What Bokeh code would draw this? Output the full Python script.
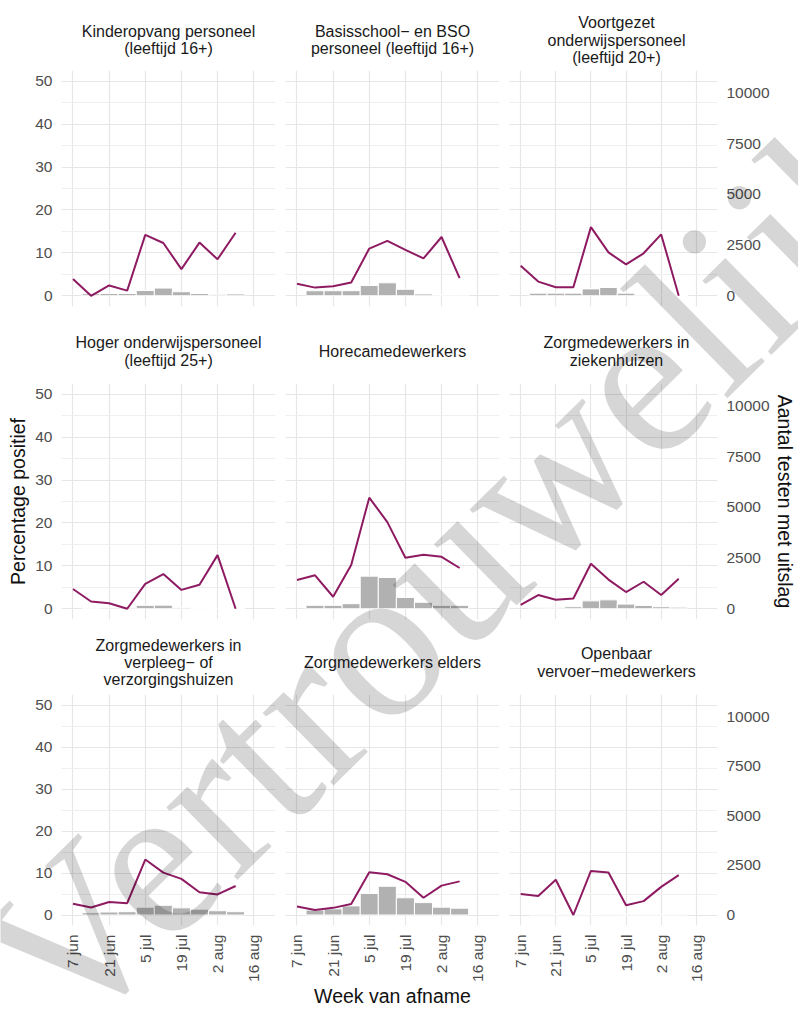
import math
from datetime import datetime, timedelta

from bokeh.plotting import figure
from bokeh.models import Range1d, LinearAxis, FixedTicker, CustomJSTickFormatter, GridPlot
from bokeh.core.properties import value
from bokeh.embed import file_html
from bokeh.resources import INLINE

# ------------------------------------------------------------------ data
week_dates = ["2020-06-07", "2020-06-14", "2020-06-21", "2020-06-28", "2020-07-05",
              "2020-07-12", "2020-07-19", "2020-07-26", "2020-08-02", "2020-08-09"]
bar_dates = ["2020-06-14", "2020-06-21", "2020-06-28", "2020-07-05", "2020-07-12",
             "2020-07-19", "2020-07-26", "2020-08-02", "2020-08-09"]
tick_dates = ["2020-06-07", "2020-06-21", "2020-07-05", "2020-07-19", "2020-08-02", "2020-08-16"]
tick_labels = ["7 jun", "21 jun", "5 jul", "19 jul", "2 aug", "16 aug"]
pct_ticks = [0, 10, 20, 30, 40, 50]
pct_minor_ticks = [5, 15, 25, 35, 45]
count_ticks = [0, 2500, 5000, 7500, 10000]

panel_titles = [
    "Kinderopvang personeel\n(leeftijd 16+)",
    "Basisschool\u2212 en BSO\npersoneel (leeftijd 16+)",
    "Voortgezet\nonderwijspersoneel\n(leeftijd 20+)",
    "Hoger onderwijspersoneel\n(leeftijd 25+)",
    "Horecamedewerkers",
    "Zorgmedewerkers in\nziekenhuizen",
    "Zorgmedewerkers in\nverpleeg\u2212 of\nverzorgingshuizen",
    "Zorgmedewerkers elders",
    "Openbaar\nvervoer\u2212medewerkers",
]
watermark_text = "Vertrouwelijk"

# percentage positief (line), per week
pct_kinderopvang = [3.9, 0.0, 2.4, 1.2, 14.2, 12.3, 6.2, 12.4, 8.5, 14.7]
pct_basisschool = [2.8, 1.9, 2.2, 3.1, 11.0, 12.8, 10.7, 8.7, 13.7, 4.1]
pct_voortgezet = [7.0, 3.3, 2.0, 2.0, 16.0, 10.1, 7.3, 9.9, 14.3, 0.0]
pct_hoger = [4.6, 1.7, 1.3, 0.0, 5.8, 8.1, 4.4, 5.6, 12.5, 0.0]
pct_horeca = [6.7, 7.8, 2.8, 10.2, 25.9, 20.2, 11.9, 12.6, 12.1, 9.5]
pct_ziekenhuis = [0.9, 3.2, 2.1, 2.4, 10.5, 6.8, 3.9, 6.3, 3.2, 7.0]
pct_verpleeg = [2.7, 1.8, 3.1, 2.8, 13.2, 10.1, 8.6, 5.4, 4.9, 6.9]
pct_elders = [2.0, 1.2, 1.7, 2.6, 10.2, 9.7, 7.9, 4.1, 7.0, 8.0]
pct_ov = [5.0, 4.5, 8.4, 0.0, 10.5, 10.1, 2.3, 3.3, 6.7, 9.5]

# aantal testen met uitslag (bars), per week
cnt_kinderopvang = [100, 110, 110, 260, 380, 200, 110, 70, 90]
cnt_basisschool = [250, 250, 250, 510, 640, 320, 90, 40, 40]
cnt_voortgezet = [130, 130, 130, 340, 410, 130, 40, 20, 10]
cnt_hoger = [30, 60, 60, 170, 180, 60, 20, 15, 15]
cnt_horeca = [170, 170, 250, 1610, 1545, 560, 320, 170, 170]
cnt_ziekenhuis = [50, 50, 100, 390, 440, 230, 165, 100, 80]
cnt_verpleeg = [115, 150, 165, 395, 490, 360, 295, 215, 165]
cnt_elders = [250, 310, 460, 1090, 1450, 870, 625, 395, 345]
cnt_ov = [20, 25, 15, 25, 20, 15, 15, 15, 15]

pct_series = [pct_kinderopvang, pct_basisschool, pct_voortgezet, pct_hoger, pct_horeca,
              pct_ziekenhuis, pct_verpleeg, pct_elders, pct_ov]
cnt_series = [cnt_kinderopvang, cnt_basisschool, cnt_voortgezet, cnt_hoger, cnt_horeca,
              cnt_ziekenhuis, cnt_verpleeg, cnt_elders, cnt_ov]

# ------------------------------------------------------------------ style / layout
LINE_COLOR = "#8E1B62"
BAR_COLOR = "#b1b1b1"
GRID_MAJOR = "#e6e6e6"
GRID_MINOR = "#efefef"
TICK_COLOR = "#4d4d4d"
FONT = "Liberation Sans"
COUNT_PER_PCT = 211.8  # secondary-axis scale

FRAME_W = 214
FRAME_H = 236
col_borders = [(61, 5), (5, 5), (5, 75)]
row_borders = [(70, 5), (72, 4), (71, 79)]
strip_center_y = [39.5, 351.0, 662.0]   # page px, centre of each strip row
TITLE_ADV = 17.3                        # px between strip-title lines

TOTAL_W = sum(bl + FRAME_W + br for bl, br in col_borders)
TOTAL_H = sum(bt + FRAME_H + bb for bt, bb in row_borders)

WM_X, WM_Y = 15.1, 992.8   # watermark anchor (page px, baseline-left)
WM_ANGLE = 44.5
WM_SIZE = "221px"


def to_dt(s):
    return datetime.strptime(s, "%Y-%m-%d")


def to_ms(d):
    return (d - datetime(1970, 1, 1)).total_seconds() * 1000.0


weeks = [to_dt(s) for s in week_dates]
bweeks = [to_dt(s) for s in bar_dates]
ticks_ms = [to_ms(to_dt(s)) for s in tick_dates]
x_start = to_dt(tick_dates[0]) - timedelta(days=4.45)
x_end = to_dt(tick_dates[-1]) + timedelta(days=8.45)
bar_width_ms = 7 * 24 * 3600 * 1000

x_formatter = CustomJSTickFormatter(args=dict(tvals=ticks_ms, tlabs=tick_labels), code="""
let best = 0; let d = Infinity;
for (let i = 0; i < tvals.length; i++) {
  const e = Math.abs(tvals[i] - tick);
  if (e < d) { d = e; best = i; }
}
return tlabs[best];
""")

col_left = []
acc = 0
for bl, br in col_borders:
    col_left.append(acc + bl)
    acc += bl + FRAME_W + br

children = []
for r in range(3):
    for c in range(3):
        i = r * 3 + c
        bl, br = col_borders[c]
        bt, bb = row_borders[r]
        p = figure(
            width=bl + FRAME_W + br, height=bt + FRAME_H + bb,
            x_axis_type="datetime",
            x_axis_location="below" if r == 2 else None,
            y_axis_location="left" if c == 0 else None,
            x_range=Range1d(x_start, x_end), y_range=Range1d(-2.5, 52.5),
            output_backend="svg", toolbar_location=None, tools="",
            min_border_left=bl, min_border_right=br,
            min_border_top=bt, min_border_bottom=bb,
            background_fill_color="white", border_fill_color="white",
            outline_line_color=None,
        )
        p.extra_y_ranges = {"count": Range1d(-2.5 * COUNT_PER_PCT, 52.5 * COUNT_PER_PCT)}

        # grids
        p.xgrid.ticker = FixedTicker(ticks=ticks_ms)
        p.ygrid.ticker = FixedTicker(ticks=pct_ticks, minor_ticks=pct_minor_ticks)
        p.xgrid.grid_line_color = GRID_MAJOR
        p.ygrid.grid_line_color = GRID_MAJOR
        p.xgrid.grid_line_width = 1.2
        p.ygrid.grid_line_width = 1.2
        p.ygrid.minor_grid_line_color = GRID_MINOR
        p.ygrid.minor_grid_line_width = 1.0

        # bars and line
        p.vbar(x=bweeks, top=cnt_series[i], bottom=0, width=bar_width_ms,
               y_range_name="count", fill_color=BAR_COLOR, line_color="white",
               line_width=1)
        p.line(x=weeks, y=pct_series[i], line_color=LINE_COLOR, line_width=2)

        axes = []
        if r == 2:
            xa = p.xaxis[0]
            xa.ticker = FixedTicker(ticks=ticks_ms)
            xa.formatter = x_formatter
            xa.major_label_orientation = math.pi / 2
            axes.append(xa)
        if c == 0:
            ya = p.yaxis[0]
            ya.ticker = FixedTicker(ticks=pct_ticks)
            axes.append(ya)
        if c == 2:
            ra = LinearAxis(y_range_name="count", ticker=FixedTicker(ticks=count_ticks))
            p.add_layout(ra, "right")
            axes.append(ra)
        for a in axes:
            a.axis_line_color = None
            a.major_tick_line_color = None
            a.minor_tick_line_color = None
            a.major_tick_out = 0
            a.major_tick_in = 0
            a.minor_tick_out = 0
            a.minor_tick_in = 0
            a.major_label_text_font = FONT
            a.major_label_text_font_size = "15.5px"
            a.major_label_text_color = TICK_COLOR
            a.major_label_standoff = 9
            a.axis_label_text_font = FONT
            a.axis_label_text_font_size = "19.5px"
            a.axis_label_text_font_style = "normal"
            a.axis_label_text_color = "#111111"
            a.axis_label_standoff = 0
        if r == 2 and c == 1:
            p.xaxis[0].axis_label = "Week van afname"
        if r == 1 and c == 0:
            p.yaxis[0].axis_label = "Percentage positief"
            p.yaxis[0].axis_label_standoff = 3
        if r == 1 and c == 2:
            p.right[0].axis_label = "Aantal testen met uitslag"
            p.right[0].axis_label_standoff = 1
        children.append((p, r, c))

# one transparent canvas laid over the whole grid: strip titles + watermark
ov = figure(width=TOTAL_W, height=TOTAL_H, x_range=Range1d(0, TOTAL_W),
            y_range=Range1d(0, TOTAL_H), x_axis_location=None, y_axis_location=None,
            output_backend="svg", toolbar_location=None, tools="", min_border=0,
            background_fill_color=None, border_fill_color=None, outline_line_color=None)
try:
    ov.frame_align = False   # keep its frame the whole canvas
except Exception:
    pass
ov.grid.visible = False

tx, ty, tt = [], [], []
for r in range(3):
    for c in range(3):
        lines = panel_titles[r * 3 + c].split("\n")
        n = len(lines)
        for k, line in enumerate(lines):
            tx.append(col_left[c] + FRAME_W / 2)
            ty.append(TOTAL_H - (strip_center_y[r] + (k - (n - 1) / 2) * TITLE_ADV))
            tt.append(line)
ov.text(x=tx, y=ty, text=tt, text_align="center", text_baseline="middle",
        text_font=value(FONT), text_font_size=value("16px"), text_color="#1a1a1a")

ov.text(x=[WM_X], y=[TOTAL_H - WM_Y], text=[watermark_text], angle=math.radians(WM_ANGLE),
        text_font=value("Liberation Serif"), text_font_size=value(WM_SIZE),
        text_color="#000000", text_alpha=0.16, text_align="left",
        text_baseline="alphabetic")
children.append((ov, 0, 0, 3, 3))

layout = GridPlot(children=children, toolbar_location=None)

open("out.html", "w").write(file_html(layout, INLINE))
